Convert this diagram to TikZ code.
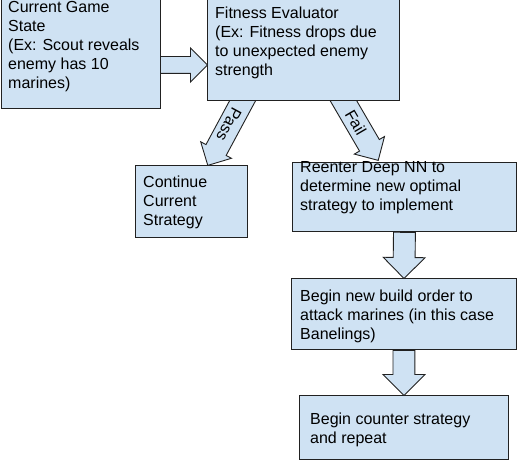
\documentclass[tikz,border=0pt]{standalone}
\usepackage{fontspec}
\setmainfont{Liberation Sans}
\usetikzlibrary{shapes.arrows,calc}
\definecolor{boxblue}{HTML}{CFE2F3}
\definecolor{edge}{HTML}{212121}
\pgfdeclarelayer{back}
\pgfsetlayers{back,main}

\begin{document}
\begin{tikzpicture}[x=1pt, y=-1pt,
  box/.style={draw=edge, fill=boxblue, line width=0.9pt, inner sep=0pt, anchor=north west},
  txt/.style={font=\fontsize{16}{19}\selectfont, align=left, inner sep=0pt, anchor=north west},
  flow/.style 2 args={draw=edge, fill=boxblue, line width=0.9pt, single arrow,
    single arrow head extend=#2, inner xsep=0pt, inner ysep=#1,
    text height=0pt, text depth=0pt, sloped, allow upside down, anchor=tail, pos=0},
  flowtext/.style={font=\fontsize{16}{19}\selectfont, text height=12pt, text depth=0pt}
  ]
  \useasboundingbox (0,0) rectangle (517,462);

  % boxes
  \node[box, minimum width=159, minimum height=113] (state) at (1,-5) {};
  \node[box, minimum width=192, minimum height=105] (fitness) at (207,-5) {};
  \node[box, minimum width=112, minimum height=72] (continue) at (135,165) {};
  \node[box, minimum width=224, minimum height=69] (reenter) at (292,162) {};
  \node[box, minimum width=225, minimum height=71] (build) at (291,278) {};
  \node[box, minimum width=209, minimum height=64] (counter) at (299,395) {};

  % texts
  \node[txt] (stateText) at (8,1.1) {Current Game\\State\\(Ex: Scout reveals\\enemy has 10\\marines)};
  \node[txt] (fitnessText) at (215,6.7) {Fitness Evaluator\\(Ex: Fitness drops due\\to unexpected enemy\\strength};
  \node[txt] (continueText) at (143,175.7) {Continue\\Current\\Strategy};
  \node[txt] (reenterText) at (300,161.7) {Reenter Deep NN to\\determine new optimal\\strategy to implement};
  \node[txt] (buildText) at (300,289.4) {Begin new build order to\\attack marines (in this case\\Banelings)};
  \node[txt] (counterText) at (310,412.5) {Begin counter strategy\\and repeat};

  % connectors
  \coordinate (inA) at (160,65);
  \coordinate (inB) at (207,65);
  \coordinate (passA) at (246.2,94);
  \coordinate (passB) at (208,165);
  \coordinate (failA) at (339.5,94);
  \coordinate (failB) at (378,160);

  \begin{pgfonlayer}{back}
    \path let \p1=($(passB)-(passA)$), \n1={veclen(\x1,\y1)} in
      (passA) -- (passB) node[flow={5pt}{6pt}, flowtext, minimum height=\n1] (passArrow) {Pass};
    \path let \p1=($(failB)-(failA)$), \n1={veclen(\x1,\y1)} in
      (failA) -- (failB) node[flow={5pt}{6pt}, flowtext, minimum height=\n1] (failArrow) {Fail};
  \end{pgfonlayer}

  \path let \p1=($(inB)-(inA)$), \n1={veclen(\x1,\y1)} in
    (inA) -- (inB) node[flow={8pt}{8.5pt}, minimum height=\n1] (inArrow) {};
  \path let \p1=($(build.north)-(reenter.south)$), \n1={veclen(\x1,\y1)} in
    (reenter.south) -- (build.north) node[flow={10.5pt}{10pt}, minimum height=\n1] (downA) {};
  \path let \p1=($(counter.north)-(build.south)$), \n1={veclen(\x1,\y1)} in
    (build.south) -- (counter.north) node[flow={10.5pt}{10pt}, minimum height=\n1] (downB) {};
\end{tikzpicture}
\end{document}
